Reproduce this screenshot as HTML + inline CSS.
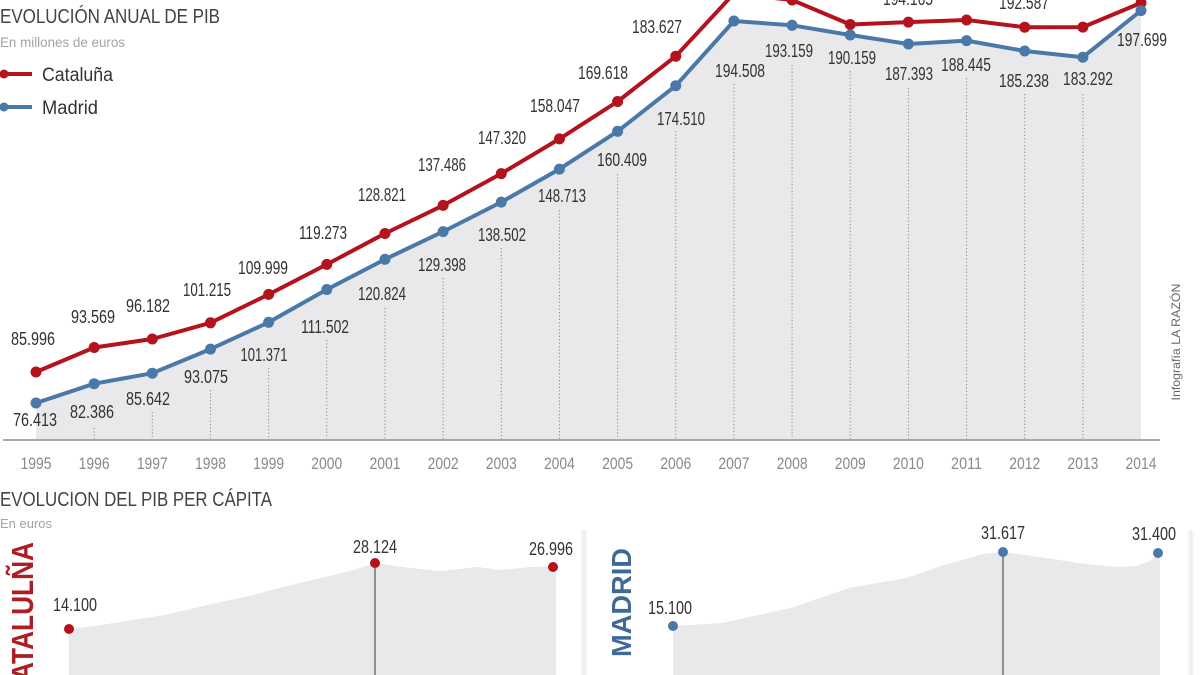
<!DOCTYPE html>
<html>
<head>
<meta charset="utf-8">
<style>
  html,body{margin:0;padding:0;background:#fff;}
  svg{display:block;}
  text{font-family:"Liberation Sans", sans-serif;}
</style>
</head>
<body>
<svg width="1200" height="675" viewBox="0 0 1200 675" xmlns="http://www.w3.org/2000/svg">
  <defs>
    <linearGradient id="sh" x1="0" x2="1" y1="0" y2="0">
      <stop offset="0" stop-color="#ffffff"/>
      <stop offset="0.5" stop-color="#ececec"/>
      <stop offset="1" stop-color="#ffffff"/>
    </linearGradient>
  </defs>
  <rect x="0" y="0" width="1200" height="675" fill="#ffffff"/>

  <!-- ===== TOP CHART ===== -->
  <polygon fill="#e9e9eb" points="36,403 94.16,383.7 152.32,373.2 210.48,349.1 268.64,322.3 326.8,289.5 384.96,259.3 443.12,231.6 501.28,202.1 559.44,169.1 617.6,131.3 675.76,85.7 733.92,21 792.08,25.3 850.24,35 908.4,44 966.56,40.6 1024.72,51 1082.88,57.2 1141.04,10.6 1141.04,440 36,440"/>

  <g stroke="#8a8a8a" stroke-width="1" stroke-dasharray="1.2,2.2">
    <line x1="94.16" y1="428" x2="94.16" y2="440"/>
    <line x1="152.32" y1="412" x2="152.32" y2="440"/>
    <line x1="210.48" y1="390" x2="210.48" y2="440"/>
    <line x1="268.64" y1="368" x2="268.64" y2="440"/>
    <line x1="326.8" y1="340" x2="326.8" y2="440"/>
    <line x1="384.96" y1="308" x2="384.96" y2="440"/>
    <line x1="443.12" y1="278" x2="443.12" y2="440"/>
    <line x1="501.28" y1="248" x2="501.28" y2="440"/>
    <line x1="559.44" y1="210" x2="559.44" y2="440"/>
    <line x1="617.6" y1="174" x2="617.6" y2="440"/>
    <line x1="675.76" y1="131" x2="675.76" y2="440"/>
    <line x1="733.92" y1="84" x2="733.92" y2="440"/>
    <line x1="792.08" y1="65" x2="792.08" y2="440"/>
    <line x1="850.24" y1="71" x2="850.24" y2="440"/>
    <line x1="908.4" y1="88" x2="908.4" y2="440"/>
    <line x1="966.56" y1="78" x2="966.56" y2="440"/>
    <line x1="1024.72" y1="94" x2="1024.72" y2="440"/>
    <line x1="1082.88" y1="94" x2="1082.88" y2="440"/>
  </g>

  <line x1="3" y1="440" x2="1160" y2="440" stroke="#a8a8a8" stroke-width="2"/>

  <polyline fill="none" stroke="#b4121d" stroke-width="4" stroke-linejoin="round" stroke-linecap="round"
    points="36,372 94.16,347.5 152.32,339 210.48,322.8 268.64,294.4 326.8,264.4 384.96,233.5 443.12,205.4 501.28,173.6 559.44,138.9 617.6,101.5 675.76,56.2 733.92,-6.5 792.08,0 850.24,24.5 908.4,22.1 966.56,20 1024.72,27.2 1082.88,27.1 1141.04,2.9"/>
  <g fill="#b4121d">
    <circle cx="36" cy="372" r="5.5"/><circle cx="94.16" cy="347.5" r="5.5"/><circle cx="152.32" cy="339" r="5.5"/>
    <circle cx="210.48" cy="322.8" r="5.5"/><circle cx="268.64" cy="294.4" r="5.5"/><circle cx="326.8" cy="264.4" r="5.5"/>
    <circle cx="384.96" cy="233.5" r="5.5"/><circle cx="443.12" cy="205.4" r="5.5"/><circle cx="501.28" cy="173.6" r="5.5"/>
    <circle cx="559.44" cy="138.9" r="5.5"/><circle cx="617.6" cy="101.5" r="5.5"/><circle cx="675.76" cy="56.2" r="5.5"/>
    <circle cx="733.92" cy="-6.5" r="5.5"/><circle cx="792.08" cy="0" r="5.5"/><circle cx="850.24" cy="24.5" r="5.5"/>
    <circle cx="908.4" cy="22.1" r="5.5"/><circle cx="966.56" cy="20" r="5.5"/><circle cx="1024.72" cy="27.2" r="5.5"/>
    <circle cx="1082.88" cy="27.1" r="5.5"/><circle cx="1141.04" cy="2.9" r="5.5"/>
  </g>

  <polyline fill="none" stroke="#4a78a8" stroke-width="4" stroke-linejoin="round" stroke-linecap="round"
    points="36,403 94.16,383.7 152.32,373.2 210.48,349.1 268.64,322.3 326.8,289.5 384.96,259.3 443.12,231.6 501.28,202.1 559.44,169.1 617.6,131.3 675.76,85.7 733.92,21 792.08,25.3 850.24,35 908.4,44 966.56,40.6 1024.72,51 1082.88,57.2 1141.04,10.6"/>
  <g fill="#4a78a8">
    <circle cx="36" cy="403" r="5.5"/><circle cx="94.16" cy="383.7" r="5.5"/><circle cx="152.32" cy="373.2" r="5.5"/>
    <circle cx="210.48" cy="349.1" r="5.5"/><circle cx="268.64" cy="322.3" r="5.5"/><circle cx="326.8" cy="289.5" r="5.5"/>
    <circle cx="384.96" cy="259.3" r="5.5"/><circle cx="443.12" cy="231.6" r="5.5"/><circle cx="501.28" cy="202.1" r="5.5"/>
    <circle cx="559.44" cy="169.1" r="5.5"/><circle cx="617.6" cy="131.3" r="5.5"/><circle cx="675.76" cy="85.7" r="5.5"/>
    <circle cx="733.92" cy="21" r="5.5"/><circle cx="792.08" cy="25.3" r="5.5"/><circle cx="850.24" cy="35" r="5.5"/>
    <circle cx="908.4" cy="44" r="5.5"/><circle cx="966.56" cy="40.6" r="5.5"/><circle cx="1024.72" cy="51" r="5.5"/>
    <circle cx="1082.88" cy="57.2" r="5.5"/><circle cx="1141.04" cy="10.6" r="5.5"/>
  </g>

  <g font-size="18" fill="#333" text-anchor="middle">
    <text x="33" y="345" textLength="44" lengthAdjust="spacingAndGlyphs">85.996</text>
    <text x="93" y="323" textLength="44" lengthAdjust="spacingAndGlyphs">93.569</text>
    <text x="148" y="312" textLength="44" lengthAdjust="spacingAndGlyphs">96.182</text>
    <text x="207" y="296" textLength="48" lengthAdjust="spacingAndGlyphs">101.215</text>
    <text x="263" y="274" textLength="50" lengthAdjust="spacingAndGlyphs">109.999</text>
    <text x="323" y="239" textLength="48" lengthAdjust="spacingAndGlyphs">119.273</text>
    <text x="382" y="201" textLength="48" lengthAdjust="spacingAndGlyphs">128.821</text>
    <text x="442" y="171" textLength="48" lengthAdjust="spacingAndGlyphs">137.486</text>
    <text x="502" y="144" textLength="48" lengthAdjust="spacingAndGlyphs">147.320</text>
    <text x="555" y="112" textLength="50" lengthAdjust="spacingAndGlyphs">158.047</text>
    <text x="603" y="79" textLength="50" lengthAdjust="spacingAndGlyphs">169.618</text>
    <text x="657" y="33" textLength="50" lengthAdjust="spacingAndGlyphs">183.627</text>
    <text x="908" y="5" textLength="50" lengthAdjust="spacingAndGlyphs">194.165</text>
    <text x="1024" y="9" textLength="50" lengthAdjust="spacingAndGlyphs">192.587</text>
  </g>

  <g font-size="18" fill="#333" text-anchor="middle">
    <text x="35" y="426" textLength="44" lengthAdjust="spacingAndGlyphs">76.413</text>
    <text x="92" y="418" textLength="44" lengthAdjust="spacingAndGlyphs">82.386</text>
    <text x="148" y="405" textLength="44" lengthAdjust="spacingAndGlyphs">85.642</text>
    <text x="206" y="383" textLength="44" lengthAdjust="spacingAndGlyphs">93.075</text>
    <text x="264" y="361" textLength="47" lengthAdjust="spacingAndGlyphs">101.371</text>
    <text x="325" y="333" textLength="48" lengthAdjust="spacingAndGlyphs">111.502</text>
    <text x="382" y="300" textLength="48" lengthAdjust="spacingAndGlyphs">120.824</text>
    <text x="442" y="271" textLength="48" lengthAdjust="spacingAndGlyphs">129.398</text>
    <text x="502" y="241" textLength="48" lengthAdjust="spacingAndGlyphs">138.502</text>
    <text x="562" y="202" textLength="48" lengthAdjust="spacingAndGlyphs">148.713</text>
    <text x="622" y="166" textLength="50" lengthAdjust="spacingAndGlyphs">160.409</text>
    <text x="681" y="125" textLength="48" lengthAdjust="spacingAndGlyphs">174.510</text>
    <text x="740" y="77" textLength="50" lengthAdjust="spacingAndGlyphs">194.508</text>
    <text x="789" y="57" textLength="48" lengthAdjust="spacingAndGlyphs">193.159</text>
    <text x="852" y="64" textLength="48" lengthAdjust="spacingAndGlyphs">190.159</text>
    <text x="909" y="80" textLength="48" lengthAdjust="spacingAndGlyphs">187.393</text>
    <text x="966" y="71" textLength="50" lengthAdjust="spacingAndGlyphs">188.445</text>
    <text x="1024" y="87" textLength="50" lengthAdjust="spacingAndGlyphs">185.238</text>
    <text x="1088" y="85" textLength="50" lengthAdjust="spacingAndGlyphs">183.292</text>
    <text x="1142" y="46" textLength="50" lengthAdjust="spacingAndGlyphs">197.699</text>
  </g>

  <g font-size="17" fill="#8a8a8a" text-anchor="middle">
    <text x="36" y="469" textLength="31" lengthAdjust="spacingAndGlyphs">1995</text>
    <text x="94.16" y="469" textLength="31" lengthAdjust="spacingAndGlyphs">1996</text>
    <text x="152.32" y="469" textLength="31" lengthAdjust="spacingAndGlyphs">1997</text>
    <text x="210.48" y="469" textLength="31" lengthAdjust="spacingAndGlyphs">1998</text>
    <text x="268.64" y="469" textLength="31" lengthAdjust="spacingAndGlyphs">1999</text>
    <text x="326.8" y="469" textLength="31" lengthAdjust="spacingAndGlyphs">2000</text>
    <text x="384.96" y="469" textLength="31" lengthAdjust="spacingAndGlyphs">2001</text>
    <text x="443.12" y="469" textLength="31" lengthAdjust="spacingAndGlyphs">2002</text>
    <text x="501.28" y="469" textLength="31" lengthAdjust="spacingAndGlyphs">2003</text>
    <text x="559.44" y="469" textLength="31" lengthAdjust="spacingAndGlyphs">2004</text>
    <text x="617.6" y="469" textLength="31" lengthAdjust="spacingAndGlyphs">2005</text>
    <text x="675.76" y="469" textLength="31" lengthAdjust="spacingAndGlyphs">2006</text>
    <text x="733.92" y="469" textLength="31" lengthAdjust="spacingAndGlyphs">2007</text>
    <text x="792.08" y="469" textLength="31" lengthAdjust="spacingAndGlyphs">2008</text>
    <text x="850.24" y="469" textLength="31" lengthAdjust="spacingAndGlyphs">2009</text>
    <text x="908.4" y="469" textLength="31" lengthAdjust="spacingAndGlyphs">2010</text>
    <text x="966.56" y="469" textLength="31" lengthAdjust="spacingAndGlyphs">2011</text>
    <text x="1024.72" y="469" textLength="31" lengthAdjust="spacingAndGlyphs">2012</text>
    <text x="1082.88" y="469" textLength="31" lengthAdjust="spacingAndGlyphs">2013</text>
    <text x="1141.04" y="469" textLength="31" lengthAdjust="spacingAndGlyphs">2014</text>
  </g>

  <text x="0" y="23" font-size="20" fill="#444" textLength="220" lengthAdjust="spacingAndGlyphs">EVOLUCIÓN ANUAL DE PIB</text>
  <text x="0" y="47" font-size="14" fill="#a3a3a3" textLength="125" lengthAdjust="spacingAndGlyphs">En millones de euros</text>

  <line x1="0" y1="74" x2="32" y2="74" stroke="#b4121d" stroke-width="4"/>
  <circle cx="4" cy="74" r="4.5" fill="#b4121d"/>
  <text x="42" y="81" font-size="19" fill="#333" textLength="71" lengthAdjust="spacingAndGlyphs">Cataluña</text>
  <line x1="0" y1="107" x2="32" y2="107" stroke="#4a78a8" stroke-width="4"/>
  <circle cx="4" cy="107" r="4.5" fill="#4a78a8"/>
  <text x="42" y="114" font-size="19" fill="#333" textLength="56" lengthAdjust="spacingAndGlyphs">Madrid</text>

  <text transform="translate(1180,342) rotate(-90)" text-anchor="middle" font-size="12" fill="#666" textLength="117" lengthAdjust="spacingAndGlyphs">Infografía LA RAZÓN</text>

  <!-- ===== BOTTOM SECTION ===== -->
  <text x="0" y="506" font-size="20" fill="#444" textLength="272" lengthAdjust="spacingAndGlyphs">EVOLUCION DEL PIB PER CÁPITA</text>
  <text x="0" y="528" font-size="13" fill="#a3a3a3" textLength="52" lengthAdjust="spacingAndGlyphs">En euros</text>

  <rect x="580" y="530" width="8" height="145" fill="url(#sh)"/>
  <rect x="1187" y="530" width="8" height="145" fill="url(#sh)"/>

  <text transform="translate(33,542) rotate(-90)" text-anchor="end" font-size="31" font-weight="bold" fill="#b01c24" textLength="158" lengthAdjust="spacingAndGlyphs">CATALULÑA</text>
  <polygon fill="#e9e9eb" points="69,629 95,626 126,621 165,615 203,606 249,596 287,586 325,577 350,571 375,563 402,567 440,571 478,567 500,570 530,567 556,566 556,675 69,675"/>
  <line x1="375" y1="563" x2="375" y2="675" stroke="#555" stroke-width="1.2"/>
  <g fill="#b4121d">
    <circle cx="69" cy="629" r="5"/>
    <circle cx="375" cy="563" r="5"/>
    <circle cx="553" cy="567" r="5"/>
  </g>
  <g font-size="18" fill="#333" text-anchor="middle">
    <text x="75" y="611" textLength="44" lengthAdjust="spacingAndGlyphs">14.100</text>
    <text x="375" y="553" textLength="44" lengthAdjust="spacingAndGlyphs">28.124</text>
    <text x="551" y="555" textLength="44" lengthAdjust="spacingAndGlyphs">26.996</text>
  </g>

  <text transform="translate(631,548) rotate(-90)" text-anchor="end" font-size="28" font-weight="bold" fill="#3f6a96" textLength="109" lengthAdjust="spacingAndGlyphs">MADRID</text>
  <polygon fill="#e9e9eb" points="673,626 722,623 791,608 849,588 906,578 944,565 983,554 1003,552 1040,557 1078,563 1117,567 1136,566 1150,561 1160,553 1160,675 673,675"/>
  <line x1="1003" y1="552" x2="1003" y2="675" stroke="#555" stroke-width="1.2"/>
  <g fill="#4a78a8">
    <circle cx="673" cy="626" r="5"/>
    <circle cx="1003" cy="552" r="5"/>
    <circle cx="1158" cy="553" r="5"/>
  </g>
  <g font-size="18" fill="#333" text-anchor="middle">
    <text x="670" y="614" textLength="44" lengthAdjust="spacingAndGlyphs">15.100</text>
    <text x="1003" y="539" textLength="44" lengthAdjust="spacingAndGlyphs">31.617</text>
    <text x="1154" y="540" textLength="44" lengthAdjust="spacingAndGlyphs">31.400</text>
  </g>
</svg>
</body>
</html>
